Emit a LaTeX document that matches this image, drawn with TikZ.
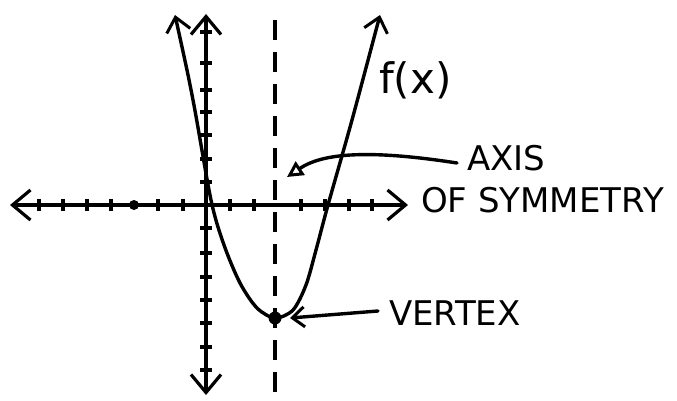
\documentclass[tikz,border=0pt]{standalone}
\usepackage{fontspec}
\setmainfont{DejaVu Sans}
\usetikzlibrary{arrows.meta}
\tikzset{
  axisline/.style={line width=4pt, line cap=round,
    {Straight Barb[length=18pt,width=30pt,line width=3.2pt]}-{Straight Barb[length=18pt,width=30pt,line width=3.2pt]}},
  tickmark/.style={line width=3.5pt},
  curveline/.style={line width=3.4pt,
    {Straight Barb[length=14pt,width=24pt,line width=3pt]}-{Straight Barb[length=14pt,width=24pt,line width=3pt]}},
  symline/.style={line width=3.2pt, dash pattern=on 20pt off 12pt},
  lbl/.style={font=\fontsize{34}{38}\selectfont, inner sep=1pt, anchor=west},
  pointer/.style={line width=3.4pt, line cap=round},
}
\begin{document}
\begin{tikzpicture}[x=1pt,y=-1pt]
\useasboundingbox (0,0) rectangle (677,401);
% axes
\coordinate (xl) at (10,205);
\coordinate (xr) at (408,205);
\coordinate (yt) at (206,14);
\coordinate (yb) at (206,395);
\draw[axisline] (xl) -- (xr);
\draw[axisline] (yb) -- (yt);
\foreach \t in {39,63,87,111,158,183,230,254,301,325,349,372}
  \draw[tickmark] (\t,199) -- (\t,211);
\fill (134,205) circle (5pt);
\foreach \t in {32,63,90,112,135,159,182,228,253,277,300,323,347,370}
  \draw[tickmark] (200,\t) -- (212,\t);
% axis of symmetry
\coordinate (st) at (275,20);
\coordinate (sb) at (275,395);
\draw[symline] (st) -- (sb);
% parabola
\draw[curveline] plot[smooth, tension=0.5] coordinates {(175,15) (193,100) (211,200) (224,245) (240,283) (257,308) (275,318) (293,310) (306,285) (316,250) (328,205) (352,120) (380,15)};
% vertex
\coordinate (vertex) at (275,318);
\fill (vertex) circle (6.5pt);
% labels
\node[lbl, font=\fontsize{42}{46}\selectfont] (fx) at (378,80) {f(x)};
\node[lbl] (axislbl) at (466,158) {AXIS};
\node[lbl] (symlbl) at (420,200) {OF SYMMETRY};
\node[lbl] (vtxlbl) at (388,313) {VERTEX};
% pointers
\coordinate (symPt) at (287,177);
\coordinate (vtxPt) at (290,318);
\draw[pointer, -{Triangle[open,length=16pt,width=16pt,line width=3pt]}]
  ([xshift=-9pt,yshift=-5pt]axislbl.west) .. controls (360,148) and (320,155) .. (symPt);
\draw[pointer, -{Straight Barb[length=12pt,width=20pt,line width=3pt]}]
  ([xshift=-10pt,yshift=2pt]vtxlbl.west) -- (vtxPt);
\end{tikzpicture}
\end{document}
